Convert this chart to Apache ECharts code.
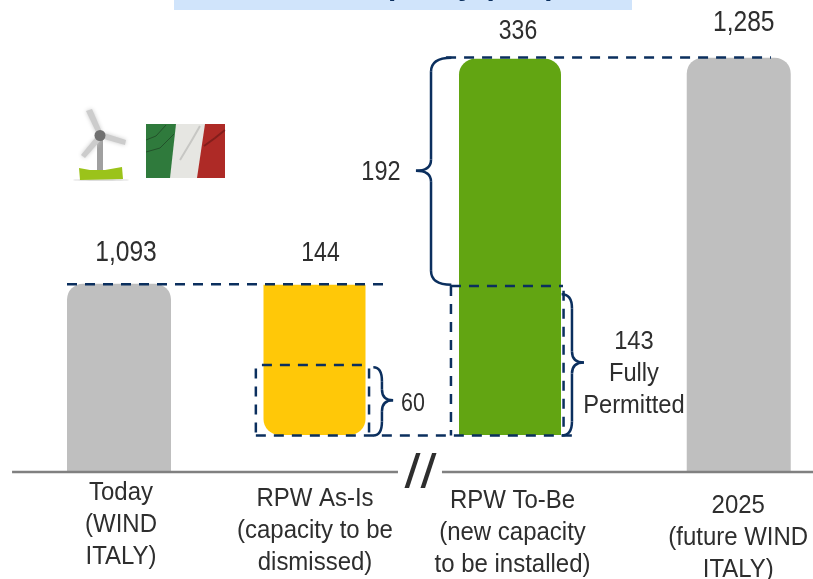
<!DOCTYPE html>
<html>
<head>
<meta charset="utf-8">
<style>
html, body { margin: 0; padding: 0; background: #fff; }
#main { width: 813px; height: 579px; }
</style>
<script src="https://cdn.jsdelivr.net/npm/echarts@6/dist/echarts.min.js"></script>
</head>
<body>
<div id="main"></div>
<script>
// labels printed on the chart
const categories = ['Today\n(WIND\nITALY)', 'RPW As-Is\n(capacity to be\ndismissed)', 'RPW To-Be\n(new capacity\nto be installed)', '2025\n(future WIND\nITALY)'];
const valueLabels = [1093, 144, 336, 1285];
// the picture is not drawn to scale and its axis is broken, so bar extents are read off it
const barTops = [1093, 1092, 1284, 1285];
const barBases = [933, 964.5, 964.5, 933];
const barColors = ['#bfbfbf', '#ffc808', '#62a512', '#bfbfbf'];
// category positions, the last one sits further out
const xPositions = [0, 1, 2, 3.17];

// dashed guides: x0, y0, x1, y1
const dashedRuns = [
    [-0.266, 1092.5, 1.356, 1092.5],
    [1.673, 1285.1, 3.335, 1285.1],
    [1.698, 1091, 2.271, 1091],
    [1.698, 1091, 1.698, 964],
    [2.274, 1087, 2.274, 964],
    [0.70, 964, 2.348, 964],
    [0.731, 1024, 1.274, 1024],
    [0.70, 1021, 0.70, 964],
    [1.279, 1021, 1.279, 964]
];
// braces: arm x, spine x, tip x, top y, tip y, bottom y, text, text x, text y
const braces = [
    [1.70, 1.596, 1.519, 1285, 1189, 1092, '192', 1.34, 1187.5],
    [2.264, 2.317, 2.378, 1084, 1026, 964, '143\nFully\nPermitted', 2.634, 1016],
    [1.301, 1.345, 1.402, 1022, 994, 964, '60', 1.504, 991]
];
const axisSegments = [[-0.547, 1.427], [1.652, 3.55]];

const navy = '#0b2f5e';
const textColor = '#2e2e2e';
const fontName = '"Liberation Sans", Arial, sans-serif';
const yMin = 933;

// text is squeezed horizontally, the reference uses a condensed face
function condensedText(text, x, y, size, scaleX, extra) {
    const style = {
        text: text, x: 0, y: 0, align: 'center', verticalAlign: 'middle',
        font: size + 'px ' + fontName, fill: textColor
    };
    return { type: 'text', x: x, y: y, scaleX: scaleX, style: Object.assign(style, extra || {}) };
}

const barPx = [104, 102, 102, 104];
const radii = [[16, 16, 0, 0], [0, 0, 16, 16], [16, 16, 0, 0], [16, 16, 0, 0]];
const labelOffsets = [[7, -31], [6, -31.5], [8, -27.5], [5, -34.5]];
const labelSizes = [30, 28, 28, 30];

function renderBar(params, api) {
    const i = params.dataIndex;
    const top = api.coord([api.value(0), api.value(1)]);
    const base = api.coord([api.value(0), api.value(2)]);
    const w = barPx[i];
    return {
        type: 'group',
        children: [
            {
                type: 'rect',
                shape: { x: top[0] - w / 2, y: top[1], width: w, height: base[1] - top[1], r: radii[i] },
                style: { fill: barColors[i] }
            },
            condensedText(valueLabels[i].toLocaleString('en-US'), top[0] + labelOffsets[i][0], top[1] + labelOffsets[i][1], labelSizes[i], 0.82)
        ]
    };
}

function renderBrace(params, api) {
    const b = braces[params.dataIndex];
    const armTop = api.coord([b[0], b[3]]);
    const spineTop = api.coord([b[1], b[3]]);
    const tip = api.coord([b[2], b[4]]);
    const armBot = api.coord([b[0], b[5]]);
    const label = api.coord([b[7], b[8]]);
    const r = 14;
    const sx = spineTop[0];
    const stroke = { stroke: navy, lineWidth: 2.5, fill: null };
    const curve = function (x1, y1, x2, y2, cx, cy) {
        return { type: 'bezierCurve', shape: { x1: x1, y1: y1, x2: x2, y2: y2, cpx1: cx, cpy1: cy }, style: stroke };
    };
    const line = function (y1, y2) {
        return { type: 'line', shape: { x1: sx, y1: y1, x2: sx, y2: y2 }, style: stroke };
    };
    const isBlock = b[6].indexOf('\n') > 0;
    return {
        type: 'group',
        children: [
            curve(armTop[0], armTop[1], sx, armTop[1] + r, sx, armTop[1]),
            line(armTop[1] + r, tip[1] - 11),
            curve(sx, tip[1] - 11, tip[0], tip[1], sx, tip[1]),
            curve(tip[0], tip[1], sx, tip[1] + 11, sx, tip[1]),
            line(tip[1] + 11, armBot[1] - r),
            curve(sx, armBot[1] - r, armBot[0], armBot[1], sx, armBot[1]),
            condensedText(b[6], label[0], label[1], b[6] === '192' ? 28 : 25.5, isBlock ? 0.93 : 0.84, { lineHeight: 32 })
        ]
    };
}

const catOffsets = [[2, 53], [0.5, 59], [2.5, 61], [-0.5, 66]];

function renderCategory(params, api) {
    const i = params.dataIndex;
    const p = api.coord([api.value(0), yMin]);
    return condensedText(categories[i], p[0] + catOffsets[i][0], p[1] + catOffsets[i][1], 25.5, 0.94, { lineHeight: 32 });
}

const dashedSeries = dashedRuns.map(function (r) {
    return {
        type: 'line', symbol: 'none', silent: true, z: 5,
        data: [[r[0], r[1]], [r[2], r[3]]],
        lineStyle: { color: navy, width: 2.5, type: [10, 8] }
    };
});
const axisSeries = axisSegments.map(function (s) {
    return {
        type: 'line', symbol: 'none', silent: true, z: 4, clip: false,
        data: [[s[0], yMin], [s[1], yMin]],
        lineStyle: { color: '#808080', width: 2.5 }
    };
});

const bladeStyle = { fill: '#cccccc', shadowBlur: 4, shadowColor: '#cccccc' };
const foldStyle = { stroke: 'rgba(20,30,20,0.45)', lineWidth: 1, fill: null };

const option = {
    animation: false,
    backgroundColor: '#fff',
    grid: { left: 0, right: 0, top: 0, bottom: 107 },
    xAxis: { type: 'value', min: -119 / 195.5, max: 694 / 195.5, show: false },
    yAxis: { type: 'value', min: yMin, max: 1334, show: false },
    graphic: [
        { type: 'rect', shape: { x: 174, y: 0, width: 458, height: 10 }, style: { fill: '#d0e4fb' }, z: 1 },
        { type: 'text', x: 556, y: 2, scaleX: 0.88, style: { text: 'Installed capacity (MW)', x: 0, y: 0, align: 'right', verticalAlign: 'bottom', font: 'bold 34px ' + fontName, fill: navy }, z: 2 },
        // flag
        { type: 'rect', shape: { x: 146, y: 124, width: 79, height: 54 }, style: { fill: '#e6e6e2' } },
        { type: 'polygon', shape: { points: [[146, 124], [176, 124], [170, 178], [146, 178]] }, style: { fill: '#2f7a3c' } },
        { type: 'polygon', shape: { points: [[205, 124], [225, 124], [225, 178], [197, 178]] }, style: { fill: '#ae2a26' } },
        { type: 'polyline', shape: { points: [[146, 140], [156, 136], [166, 125]] }, style: foldStyle },
        { type: 'polyline', shape: { points: [[146, 152], [160, 148], [174, 134]] }, style: foldStyle },
        { type: 'polyline', shape: { points: [[180, 160], [192, 140], [200, 126]] }, style: { stroke: 'rgba(60,60,60,0.18)', lineWidth: 2, fill: null } },
        { type: 'polyline', shape: { points: [[204, 146], [215, 138], [225, 130]] }, style: { stroke: 'rgba(50,10,10,0.35)', lineWidth: 2, fill: null } },
        // turbine
        { type: 'ellipse', shape: { cx: 101, cy: 180, rx: 28, ry: 1 }, style: { fill: '#dddddd' } },
        { type: 'rect', shape: { x: 97, y: 137, width: 6, height: 33 }, style: { fill: '#a0a0a0' } },
        { type: 'polygon', shape: { points: [[97, 134], [86, 111], [92, 109], [102, 132]] }, style: bladeStyle },
        { type: 'polygon', shape: { points: [[104, 133], [126, 140], [125, 145], [104, 139]] }, style: bladeStyle },
        { type: 'polygon', shape: { points: [[95, 138], [81, 155], [85, 158], [100, 141]] }, style: bladeStyle },
        { type: 'circle', shape: { cx: 100, cy: 135.5, r: 5.5 }, style: { fill: '#707070' } },
        { type: 'polygon', shape: { points: [[79, 168], [90, 170], [105, 170], [122, 167], [123, 179], [80, 180]] }, style: { fill: '#9bc31a' } },
        // axis break
        { type: 'text', x: 420.5, y: 475, scaleX: 1.2, style: { text: '//', x: 0, y: 0, align: 'center', verticalAlign: 'middle', font: '48px ' + fontName, fill: textColor }, z: 6 }
    ],
    series: [
        {
            type: 'custom', silent: true, z: 2, clip: false,
            data: xPositions.map(function (x, i) { return [x, barTops[i], barBases[i]]; }),
            encode: { x: 0, y: [1, 2] },
            renderItem: renderBar
        }
    ].concat(axisSeries, dashedSeries, [
        {
            type: 'custom', silent: true, z: 6, clip: false,
            data: braces.map(function (b) { return [b[1], b[4]]; }),
            encode: { x: 0, y: 1 },
            renderItem: renderBrace
        },
        {
            type: 'custom', silent: true, z: 6, clip: false,
            data: xPositions.map(function (x) { return [x, yMin]; }),
            encode: { x: 0, y: 1 },
            renderItem: renderCategory
        }
    ])
};

const chart = echarts.init(document.getElementById('main'), null, { renderer: 'canvas' });
chart.setOption(option);
</script>
</body>
</html>
